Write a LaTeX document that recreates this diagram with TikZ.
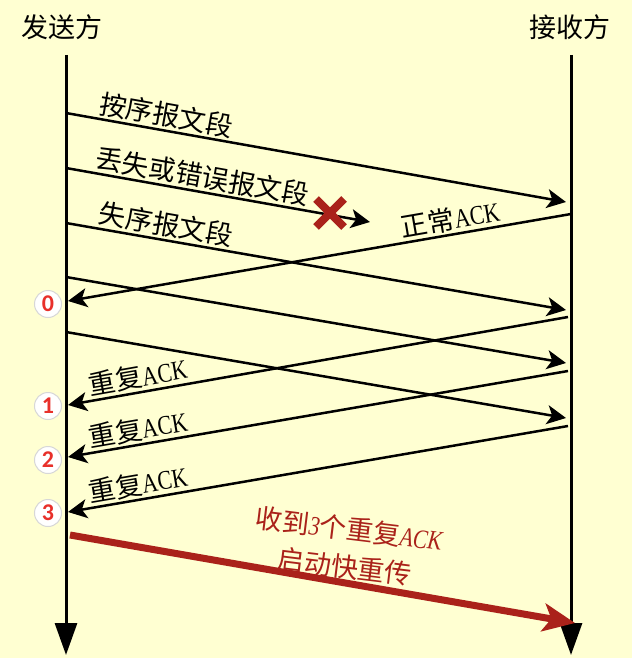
\documentclass[tikz,border=0pt]{standalone}
\usepackage{fontspec}
\setmainfont{Liberation Serif}[FakeStretch=0.8]
\newfontfamily\cjk{Noto Sans CJK SC}
\newfontfamily\digitfont{Carlito}[BoldFont={Carlito Bold}]
\usetikzlibrary{arrows.meta,calc}
\definecolor{bgyellow}{RGB}{255,255,210}
\definecolor{darkred}{RGB}{170,34,26}
\definecolor{numred}{RGB}{232,48,42}
\definecolor{ringgray}{RGB}{215,215,215}
\begin{document}
\begin{tikzpicture}[x=1pt,y=-1pt,
  lifeline/.style={line width=3pt,-{Triangle[length=32pt,width=22pt]}},
  msg/.style={line width=2.5pt,-{Stealth[length=19pt,width=19pt,inset=5pt]}},
  fast/.style={line width=7pt,darkred,-{Stealth[length=32pt,width=28pt,inset=8pt]}},
  title/.style={font=\cjk\fontsize{27}{30}\selectfont},
  lab/.style={font=\fontsize{27}{30}\selectfont,inner sep=2pt},
  num/.style={circle,draw=ringgray,fill=white,line width=1pt,minimum size=27pt,inner sep=0pt,
    font=\digitfont\bfseries\fontsize{24}{24}\selectfont,text=numred},
  cross/.style={line width=8pt,darkred}]
\fill[bgyellow] (0,0) rectangle (632,658);
\useasboundingbox (0,0) rectangle (632,658);
% titles
\node[title] (snd) at (62,27) {发送方};
\node[title] (rcv) at (570,27) {接收方};
% lifelines
\coordinate (sTop) at (66,55);
\coordinate (sBot) at (66,655);
\coordinate (rTop) at (571,55);
\coordinate (rBot) at (571,655);
\draw[lifeline] (sTop) -- (sBot);
\draw[lifeline] (rTop) -- (rBot);
% sender events
\coordinate (s1) at (66,113);
\coordinate (s2) at (66,168);
\coordinate (s3) at (66,223);
\coordinate (s4) at (66,277);
\coordinate (s5) at (66,332);
% receiver arrival points
\coordinate (r1) at (566,202);
\coordinate (r3) at (566,310);
\coordinate (r4) at (566,363);
\coordinate (r5) at (566,418);
\coordinate (lost) at (370,222);
% ack start points
\coordinate (a0) at (571,214);
\coordinate (a1) at (568,317);
\coordinate (a2) at (568,371);
\coordinate (a3) at (568,426);
% ack arrival points
\coordinate (k0) at (68,301);
\coordinate (k1) at (68,405);
\coordinate (k2) at (68,457);
\coordinate (k3) at (68,512);
% segments
\draw[msg] (s1) -- node[lab,pos=0.195,above,sloped]{\cjk 按序报文段} (r1);
\draw[msg] (s2) -- node[lab,pos=0.44,above,sloped]{\cjk 丢失或错误报文段} (lost);
\draw[msg] (s3) -- node[lab,pos=0.195,above,sloped]{\cjk 失序报文段} (r3);
\draw[msg] (s4) -- (r4);
\draw[msg] (s5) -- (r5);
% acks
\draw[msg] (a0) -- node[lab,pos=0.235,above,sloped]{{\cjk 正常}ACK} (k0);
\draw[msg] (a1) -- node[lab,pos=0.855,above,sloped]{{\cjk 重复}ACK} (k1);
\draw[msg] (a2) -- node[lab,pos=0.855,above,sloped]{{\cjk 重复}ACK} (k2);
\draw[msg] (a3) -- node[lab,pos=0.855,above,sloped]{{\cjk 重复}ACK} (k3);
% lost cross
\node[inner sep=0pt,minimum size=0pt] (x) at (330,213) {};
\draw[cross] ($(x)+(-14,-14)$) -- ($(x)+(14,14)$);
\draw[cross] ($(x)+(-14,14)$) -- ($(x)+(14,-14)$);
% numbers
\node[num] (n0) at (48,304) {0};
\node[num] (n1) at (48,406) {1};
\node[num] (n2) at (48,460) {2};
\node[num] (n3) at (48,513) {3};
% fast retransmit
\coordinate (f0) at (70,535);
\coordinate (f1) at (575,623);
\draw[fast] (f0) -- (f1);
\node[font=\fontsize{27}{38}\selectfont,text=darkred,align=center,rotate=-7,inner sep=0pt] (fr) at (347,548)
  {{\cjk 收到}\textit{3}{\cjk 个重复}\textit{ACK}\\{\cjk 启动快重传}};
\end{tikzpicture}
\end{document}
